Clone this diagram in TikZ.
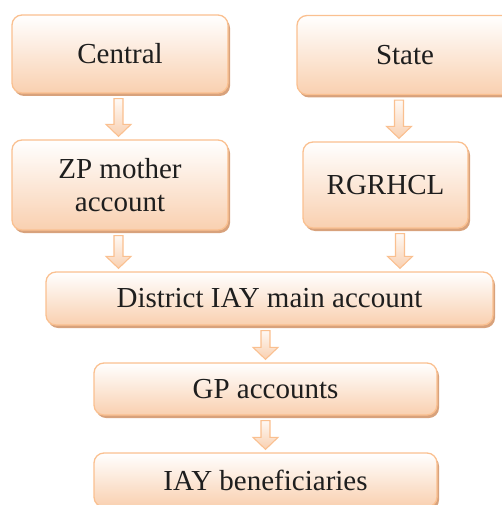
\documentclass[tikz,border=0pt]{standalone}
\usepackage{fontspec}
\setmainfont{Liberation Serif}
\newfontfamily\boxfont{Liberation Serif}
\usetikzlibrary{calc,shadows}

\definecolor{boxline}{RGB}{250,192,144}
\definecolor{boxfill}{RGB}{249,208,176}
\definecolor{boxshadow}{RGB}{216,162,124}
\definecolor{boxtext}{RGB}{30,30,30}

\tikzset{
    fundbox/.style = {draw = boxline, line width = 1.3pt, rounded corners = 10pt,
        top color = white, bottom color = boxfill, text = boxtext, align = center,
        font = \boxfont\fontsize{29}{33}\selectfont, inner sep = 0pt,
        drop shadow = {shadow xshift = 2pt, shadow yshift = -3pt,
            fill = boxshadow, opacity = 1}},
    flowarrow/.style = {draw = boxline, line width = 1.1pt, line join = miter,
        top color = white, bottom color = boxfill,
        to path = {let \p1 = (\tikztostart), \p2 = (\tikztotarget) in
            (\x1-4.5pt, \y1-5pt) -- (\x1+4.5pt, \y1-5pt)
            -- (\x1+4.5pt, \y2+15pt) -- (\x1+12.5pt, \y2+15pt)
            -- (\x1, \y2+3pt)
            -- (\x1-12.5pt, \y2+15pt) -- (\x1-4.5pt, \y2+15pt) -- cycle}}
}

\begin{document}
\begin{tikzpicture}[x = 1pt, y = -1pt]
            \useasboundingbox (0, 0) rectangle (502, 505);

            \path
                (120,   54)  node (central)  [fundbox, minimum width = 216pt, minimum height = 78pt] {Central}
                (405,   55)  node (state)    [fundbox, minimum width = 216pt, minimum height = 79pt] {State}

                (120,   185) node (zp)       [fundbox, minimum width = 216pt, minimum height = 90pt] {ZP mother\\account}
                (385.5, 185) node (rgrhcl)   [fundbox, minimum width = 165pt, minimum height = 86pt] {RGRHCL}

                (269.5, 298.5) node (district) [fundbox, minimum width = 447pt, minimum height = 53pt] {District IAY main account}
                (265.5, 389) node (gp)       [fundbox, minimum width = 343pt, minimum height = 52pt] {GP accounts}
                (265.5, 480) node (iay)      [fundbox, minimum width = 343pt, minimum height = 54pt] {IAY beneficiaries}
            ;

            \draw[flowarrow] ([xshift = -1.5pt]central.south) to (zp.north);
            \draw[flowarrow] ([xshift = -6pt]state.south) to (rgrhcl.north);
            \draw[flowarrow] ([xshift = -1.5pt]zp.south) to (district.north);
            \draw[flowarrow] ([xshift = 14.5pt]rgrhcl.south) to (district.north);
            \draw[flowarrow] (gp.north |- district.south) to (gp.north);
            \draw[flowarrow] (gp.south) to (iay.north);

        \end{tikzpicture}
\end{document}
